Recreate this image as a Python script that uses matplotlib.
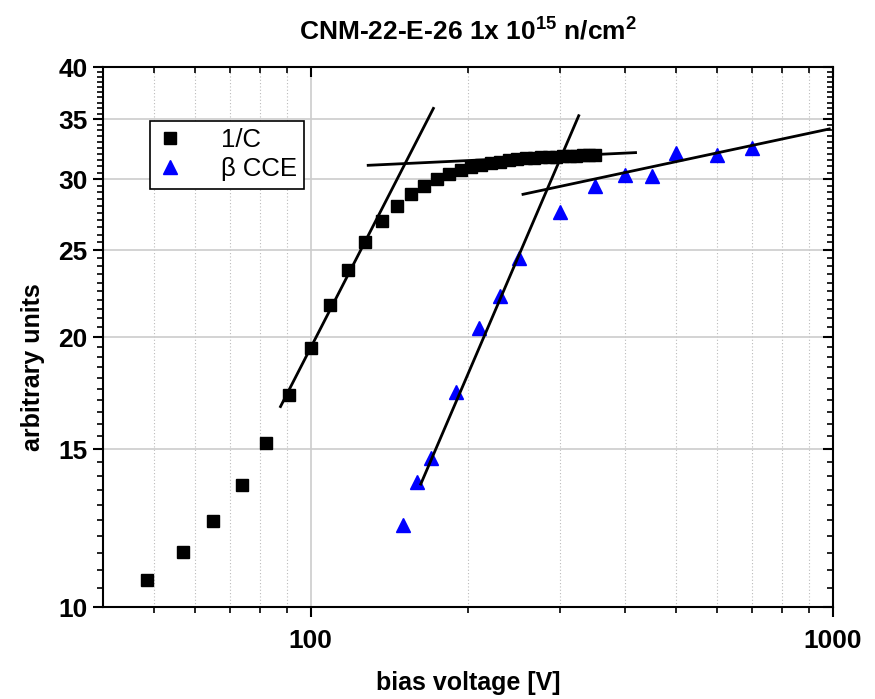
import matplotlib
matplotlib.use("Agg")
import matplotlib.pyplot as plt
from matplotlib.ticker import FixedLocator, NullFormatter, FixedFormatter
import numpy as np

plt.rcParams['font.family'] = ['Liberation Sans', 'DejaVu Sans']
plt.rcParams['mathtext.fontset'] = 'custom'
plt.rcParams['mathtext.rm'] = 'Liberation Sans:bold'
plt.rcParams['mathtext.bf'] = 'Liberation Sans:bold'

# ---- data ----
invc_v = [48.6, 56.9, 65.1, 73.7, 82.2, 90.9, 100.0, 108.8, 117.8, 126.9, 136.9,
          146.2, 155.6, 164.5, 174.3, 184.1, 193.5, 202.6, 211.8, 221.0, 230.2,
          239.4, 248.6, 257.8, 267.0, 276.2, 285.4, 294.6, 303.8, 313.0, 322.2,
          331.4, 340.6, 349.8]
invc_y = [10.71, 11.53, 12.47, 13.67, 15.22, 17.22, 19.45, 21.71, 23.75, 25.53, 26.94,
          28.00, 28.85, 29.49, 30.01, 30.37, 30.71, 30.92, 31.10, 31.25, 31.38,
          31.48, 31.56, 31.63, 31.68, 31.72, 31.76, 31.79, 31.82, 31.84, 31.86,
          31.88, 31.89, 31.90]

cce_v = [150, 160, 170, 190, 210, 230, 250, 300, 350, 400, 450, 500, 600, 700]
cce_y = [12.34, 13.80, 14.65, 17.38, 20.45, 22.22, 24.48, 27.59, 29.47, 30.31,
         30.23, 32.05, 31.91, 32.52]

# fit lines (end points in data units)
fit1_v = [87.5, 171.7];  fit1_y = [16.73, 35.97]
fit2_v = [128.8, 418.7]; fit2_y = [31.08, 32.11]
fit3_v = [162.4, 325.9]; fit3_y = [13.71, 35.30]
fit4_v = [254.9, 983.8]; fit4_y = [28.85, 34.12]

title = "CNM-22-E-26 1x 10$^{15}$ n/cm$^{2}$"
xlabel = "bias voltage [V]"
ylabel = "arbitrary units"
yticks = [10, 15, 20, 25, 30, 35, 40]
xticks = [100, 1000]

fig = plt.figure(figsize=(8.75, 6.99), dpi=100)
ax = fig.add_axes([0.1177, 0.1316, 0.8343, 0.7725])
ax.set_xscale('log')
ax.set_yscale('log')
ax.set_xlim(40, 1000)
ax.set_ylim(10, 40)

ax.xaxis.set_minor_locator(FixedLocator([50, 60, 70, 80, 90, 200, 300, 400, 500, 600, 700, 800, 900]))
ax.xaxis.set_major_locator(FixedLocator(xticks))
ax.xaxis.set_major_formatter(FixedFormatter([str(t) for t in xticks]))
ax.xaxis.set_minor_formatter(NullFormatter())
ax.yaxis.set_major_locator(FixedLocator(yticks))
ax.yaxis.set_major_formatter(FixedFormatter([str(t) for t in yticks]))
ax.yaxis.set_minor_locator(FixedLocator(list(np.arange(10, 40.01, 0.5))))
ax.yaxis.set_minor_formatter(NullFormatter())

ax.grid(True, which='major', axis='both', color='#cccccc', lw=1.2, ls='-', zorder=0)
ax.grid(True, which='minor', axis='x', color='#bbbbbb', lw=0.8, ls=(0, (1, 2)), zorder=0)
ax.set_axisbelow(True)

for s in ax.spines.values():
    s.set_linewidth(1.5)

ax.tick_params(axis='both', which='major', direction='out', length=7, width=1.5,
               labelsize=19)
ax.tick_params(axis='x', which='major', pad=9)
ax.tick_params(axis='y', which='major', pad=4)
ax.tick_params(axis='both', which='minor', direction='out', length=4, width=1.2)
ax.tick_params(axis='y', which='both', right=True)
ax.tick_params(axis='x', which='both', top=True)
for lab in ax.get_xticklabels() + ax.get_yticklabels():
    lab.set_fontweight('bold')

# right/top ticks point inward
for tk in ax.yaxis.get_major_ticks() + ax.yaxis.get_minor_ticks():
    tk.tick2line.set_marker(matplotlib.lines.TICKLEFT)
for tk in ax.xaxis.get_major_ticks() + ax.xaxis.get_minor_ticks():
    tk.tick2line.set_marker(matplotlib.lines.TICKDOWN)

ax.plot(invc_v, invc_y, ls='none', marker='s', ms=8.5, color='black', label='1/C', zorder=3)
ax.plot(cce_v, cce_y, ls='none', marker='^', ms=10, color='#0000ff', mec='#0000ff',
        label='\u03b2 CCE', zorder=3)

for xv, yv in [(fit1_v, fit1_y), (fit2_v, fit2_y), (fit3_v, fit3_y), (fit4_v, fit4_y)]:
    ax.plot(xv, yv, color='black', lw=2.0, zorder=4)

leg = ax.legend(loc='upper left', bbox_to_anchor=(0.064, 0.9), fontsize=18.5,
                frameon=True, fancybox=False, edgecolor='black', framealpha=1,
                handlelength=1.0, handletextpad=1.5, borderpad=0.28, labelspacing=0.2,
                borderaxespad=0)
leg.get_frame().set_linewidth(1.2)

fig.text(0.535, 0.957, title, ha='center', va='center', fontsize=19, fontweight='bold')
ax.set_xlabel(xlabel, fontsize=18, fontweight='bold')
ax.set_ylabel(ylabel, fontsize=18, fontweight='bold')
ax.xaxis.label.set_va('center')
ax.yaxis.label.set_va('center')
ax.xaxis.set_label_coords(0.5, -0.1407)
ax.yaxis.set_label_coords(-0.096, 0.444)

fig.savefig('out.png', dpi=100)
